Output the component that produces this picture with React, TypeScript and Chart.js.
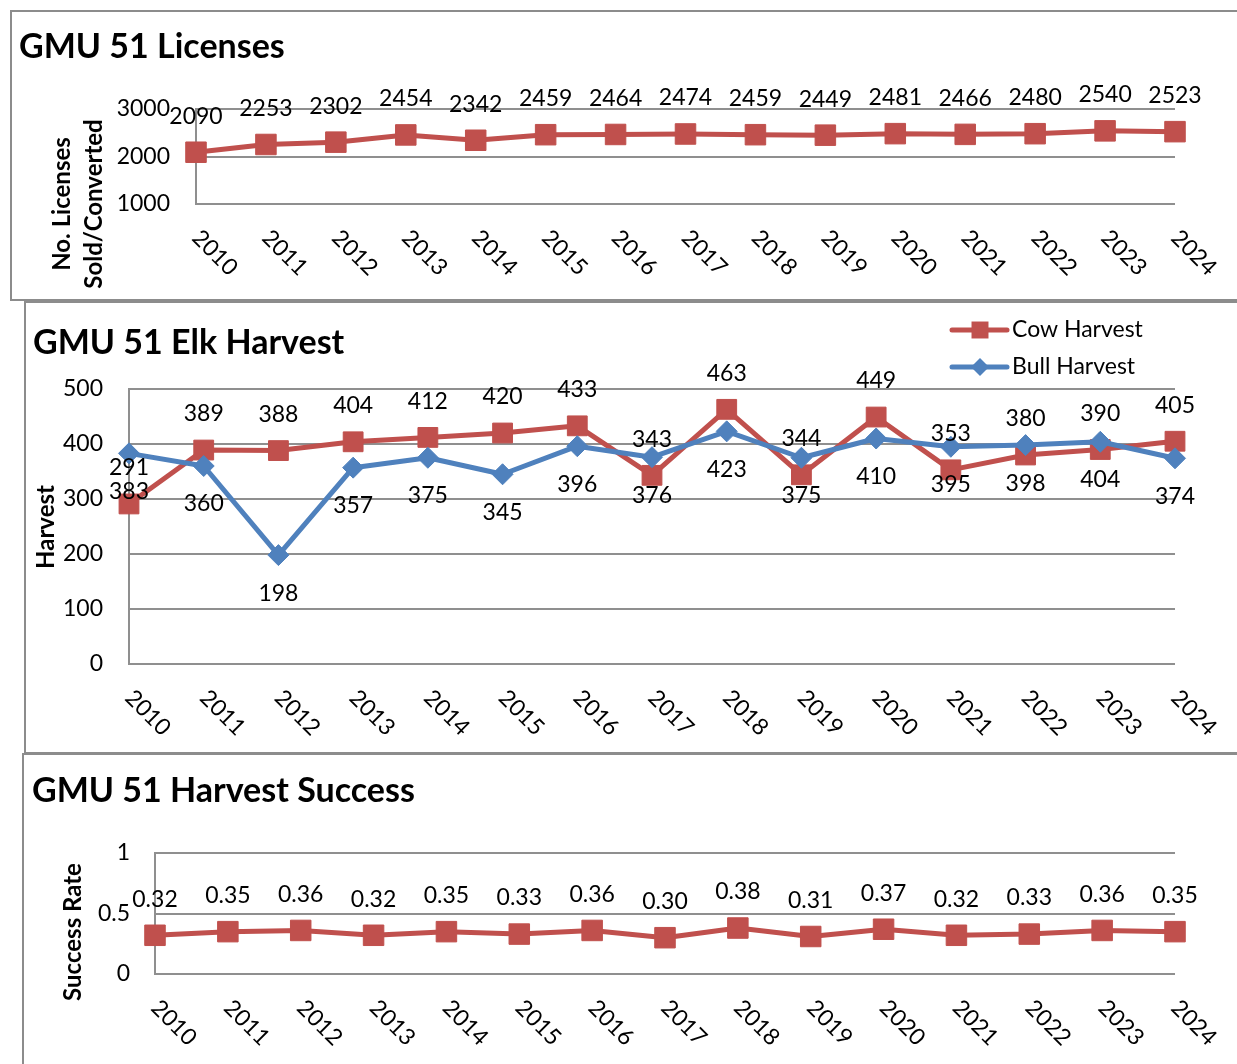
import React, { useEffect, useRef } from "react";
import { Chart, registerables } from "chart.js";

Chart.register(...registerables);

const years = ["2010", "2011", "2012", "2013", "2014", "2015", "2016", "2017", "2018", "2019", "2020", "2021", "2022", "2023", "2024"];
const licenses = [2090, 2253, 2302, 2454, 2342, 2459, 2464, 2474, 2459, 2449, 2481, 2466, 2480, 2540, 2523];
const cowHarvest = [291, 389, 388, 404, 412, 420, 433, 343, 463, 344, 449, 353, 380, 390, 405];
const bullHarvest = [383, 360, 198, 357, 375, 345, 396, 376, 423, 375, 410, 395, 398, 404, 374];
const successRate = [0.32, 0.35, 0.36, 0.32, 0.35, 0.33, 0.36, 0.3, 0.38, 0.31, 0.37, 0.32, 0.33, 0.36, 0.35];

const licenseAxis = [1000, 3000, 1000];
const harvestAxis = [0, 500, 100];
const successAxis = [0, 1, 0.5];

const RED = "#C0504D";
const BLUE = "#4F81BD";
const GRID = "#8f8f8f";
const FONT = "Lato, 'Open Sans', sans-serif";

type Series = {
  label: string;
  data: number[];
  color: string;
  pointStyle: string;
  radius: number;
  labelOffset: number;
  order: number;
  decimals: number;
};

type PanelCfg = {
  id: string;
  box: { left: number; top: number; width: number; height: number };
  plot: { left: number; top: number; right: number; bottom: number };
  title: string;
  titlePos: { x: number; y: number };
  yTitle: { lines: string[]; xs: number[]; cy: number };
  axis: number[];
  tickPadding: number;
  series: Series[];
  legend?: { lineX0: number; lineX1: number; markerX: number; textX: number; ys: number[] };
};

const panels: PanelCfg[] = [
  {
    id: "licenses",
    box: { left: 10, top: 10, width: 1240, height: 291 },
    plot: { left: 196, top: 109, right: 1175, bottom: 204 },
    title: "GMU 51 Licenses",
    titlePos: { x: 19, y: 58 },
    yTitle: { lines: ["No. Licenses", "Sold/Converted"], xs: [62, 94], cy: 204 },
    axis: licenseAxis,
    tickPadding: 26,
    series: [
      { label: "Licenses", data: licenses, color: RED, pointStyle: "rect", radius: 14.5, labelOffset: -36, order: 1, decimals: 0 },
    ],
  },
  {
    id: "harvest",
    box: { left: 24, top: 301, width: 1226, height: 453 },
    plot: { left: 129, top: 389, right: 1175, bottom: 664 },
    title: "GMU 51 Elk Harvest",
    titlePos: { x: 33, y: 354 },
    yTitle: { lines: ["Harvest"], xs: [46], cy: 527 },
    axis: harvestAxis,
    tickPadding: 26,
    series: [
      { label: "Cow Harvest", data: cowHarvest, color: RED, pointStyle: "rect", radius: 14, labelOffset: -36, order: 2, decimals: 0 },
      { label: "Bull Harvest", data: bullHarvest, color: BLUE, pointStyle: "rectRot", radius: 10.5, labelOffset: 38, order: 1, decimals: 0 },
    ],
    legend: { lineX0: 952, lineX1: 1007, markerX: 980, textX: 1012, ys: [330, 367] },
  },
  {
    id: "success",
    box: { left: 22, top: 753, width: 1228, height: 330 },
    plot: { left: 155, top: 853, right: 1175, bottom: 974 },
    title: "GMU 51 Harvest Success",
    titlePos: { x: 32, y: 802 },
    yTitle: { lines: ["Success Rate"], xs: [73], cy: 932 },
    axis: successAxis,
    tickPadding: 25,
    series: [
      { label: "Success Rate", data: successRate, color: RED, pointStyle: "rect", radius: 14.5, labelOffset: -36, order: 1, decimals: 2 },
    ],
  },
];

function drawMarker(ctx: CanvasRenderingContext2D, style: string, x: number, y: number, r: number, color: string) {
  ctx.save();
  ctx.fillStyle = color;
  ctx.beginPath();
  if (style === "rect") {
    const h = Math.SQRT1_2 * r;
    ctx.rect(x - h, y - h, 2 * h, 2 * h);
  } else {
    ctx.moveTo(x - r, y);
    ctx.lineTo(x, y - r);
    ctx.lineTo(x + r, y);
    ctx.lineTo(x, y + r);
    ctx.closePath();
  }
  ctx.fill();
  ctx.restore();
}

function Panel({ cfg }: { cfg: PanelCfg }) {
  const ref = useRef<HTMLCanvasElement>(null);
  const ox = cfg.box.left + 2;
  const oy = cfg.box.top + 2;
  const cw = cfg.box.width - 4;
  const ch = cfg.box.height - 4;

  useEffect(() => {
    if (!ref.current) return;
    const plugin = {
      id: "custom_" + cfg.id,
      afterDatasetsDraw(chart: any) {
        const ctx: CanvasRenderingContext2D = chart.ctx;
        ctx.save();
        ctx.font = `23px ${FONT}`;
        ctx.fillStyle = "#000";
        ctx.textAlign = "center";
        ctx.textBaseline = "middle";
        cfg.series.forEach((s, di) => {
          const meta = chart.getDatasetMeta(di);
          meta.data.forEach((pt: any, i: number) => {
            const v = s.data[i];
            const txt = s.decimals ? v.toFixed(s.decimals) : String(v);
            ctx.fillText(txt, pt.x, pt.y + s.labelOffset);
          });
        });
        ctx.restore();
      },
      afterDraw(chart: any) {
        const ctx: CanvasRenderingContext2D = chart.ctx;
        const xs = chart.scales.x;
        const area = chart.chartArea;
        ctx.save();
        // x labels rotated
        ctx.font = `23px ${FONT}`;
        ctx.fillStyle = "#000";
        years.forEach((y, i) => {
          const px = xs.getPixelForValue(i);
          ctx.save();
          ctx.translate(px, area.bottom + 30);
          ctx.rotate(Math.PI / 4);
          ctx.textAlign = "left";
          ctx.textBaseline = "middle";
          ctx.fillText(y, 0, 0);
          ctx.restore();
        });
        // title
        ctx.font = `bold 34px ${FONT}`;
        ctx.textAlign = "left";
        ctx.textBaseline = "alphabetic";
        ctx.fillText(cfg.title, cfg.titlePos.x - ox, cfg.titlePos.y - oy);
        // y title
        ctx.font = `bold 24px ${FONT}`;
        cfg.yTitle.lines.forEach((line, i) => {
          ctx.save();
          ctx.translate(cfg.yTitle.xs[i] - ox, cfg.yTitle.cy - oy);
          ctx.rotate(-Math.PI / 2);
          ctx.textAlign = "center";
          ctx.textBaseline = "middle";
          ctx.fillText(line, 0, 0);
          ctx.restore();
        });
        // legend
        if (cfg.legend) {
          const lg = cfg.legend;
          cfg.series.forEach((s, i) => {
            const y = lg.ys[i] - oy;
            ctx.save();
            ctx.strokeStyle = s.color;
            ctx.lineWidth = 5;
            ctx.lineCap = "round";
            ctx.beginPath();
            ctx.moveTo(lg.lineX0 - ox, y);
            ctx.lineTo(lg.lineX1 - ox, y);
            ctx.stroke();
            ctx.restore();
            drawMarker(ctx, s.pointStyle, lg.markerX - ox, y, s.pointStyle === "rect" ? 12 : 9, s.color);
            ctx.font = `23px ${FONT}`;
            ctx.fillStyle = "#000";
            ctx.textAlign = "left";
            ctx.textBaseline = "middle";
            ctx.fillText(s.label, lg.textX - ox, y);
          });
        }
        ctx.restore();
      },
    };

    const chart = new Chart(ref.current, {
      type: "line",
      data: {
        labels: years,
        datasets: cfg.series.map((s) => ({
          label: s.label,
          data: s.data,
          borderColor: s.color,
          backgroundColor: s.color,
          pointStyle: s.pointStyle as any,
          pointRadius: s.radius,
          pointHoverRadius: s.radius,
          pointBackgroundColor: s.color,
          pointBorderColor: s.color,
          pointBorderWidth: 1,
          borderWidth: 5,
          borderJoinStyle: "round" as const,
          borderCapStyle: "round" as const,
          tension: 0,
          order: s.order,
          clip: false as any,
        })),
      },
      options: {
        responsive: false,
        animation: false,
        devicePixelRatio: 1,
        events: [],
        layout: {
          padding: {
            left: 0,
            top: cfg.plot.top - oy,
            right: cw - (cfg.plot.right - ox),
            bottom: ch - (cfg.plot.bottom - oy),
          },
        },
        plugins: {
          legend: { display: false },
          tooltip: { enabled: false },
          title: { display: false },
        },
        scales: {
          x: { type: "category", display: false, offset: false },
          y: {
            min: cfg.axis[0],
            max: cfg.axis[1],
            afterFit: (s: any) => {
              s.width = cfg.plot.left - ox;
            },
            ticks: {
              stepSize: cfg.axis[2],
              padding: cfg.tickPadding,
              color: "#000",
              font: { family: FONT, size: 23 },
              callback: (v: any) => String(v),
            },
            grid: { color: GRID, lineWidth: 2, drawTicks: false },
            border: { display: true, color: GRID, width: 2 },
          },
        },
      },
      plugins: [plugin],
    });
    return () => chart.destroy();
  }, []);

  return (
    <div
      style={{
        position: "absolute",
        left: cfg.box.left,
        top: cfg.box.top,
        width: cfg.box.width,
        height: cfg.box.height,
        border: "2px solid #8c8c8c",
        boxSizing: "border-box",
        background: "#fff",
      }}
    >
      <canvas ref={ref} width={cw} height={ch} style={{ position: "absolute", left: 0, top: 0, width: cw, height: ch }} />
    </div>
  );
}

export default function App() {
  return (
    <div style={{ position: "absolute", left: 0, top: 0, width: 1237, height: 1064, overflow: "hidden", background: "#fff" }}>
      {panels.map((p) => (
        <Panel key={p.id} cfg={p} />
      ))}
    </div>
  );
}
